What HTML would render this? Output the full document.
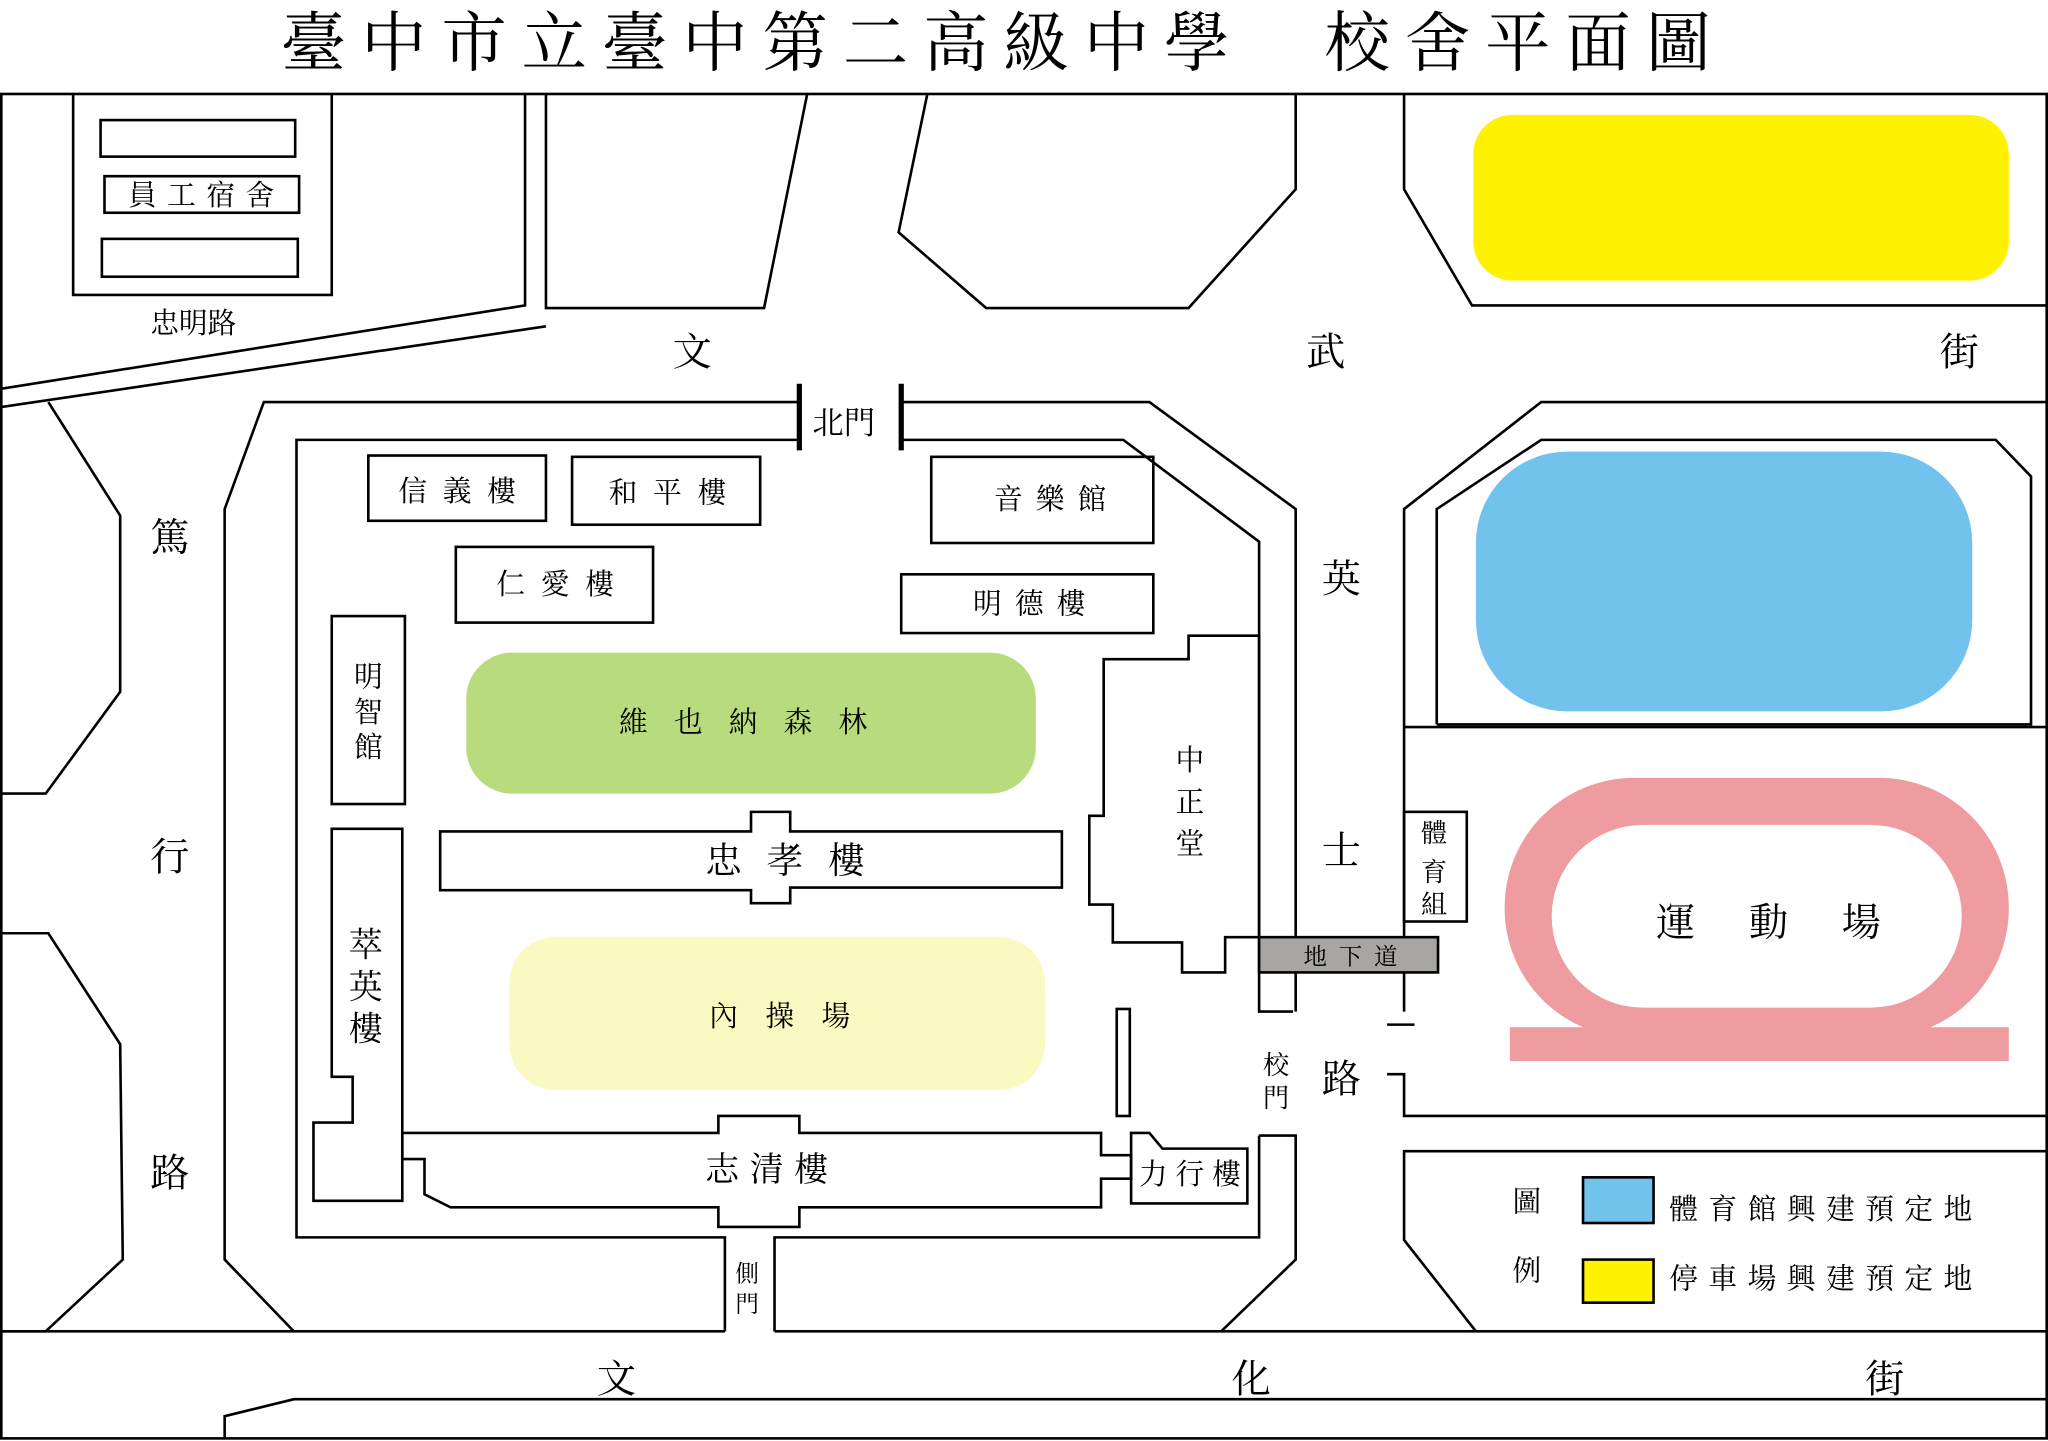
<!DOCTYPE html>
<html><head><meta charset="utf-8"><style>
html,body{margin:0;padding:0;background:#fff;}
svg{display:block;}
text{font-family:"Liberation Serif","Noto Serif CJK SC","Noto Sans CJK TC",serif;fill:#000;}
</style></head><body>
<svg width="2048" height="1441" viewBox="0 0 1568 1104" preserveAspectRatio="none" xmlns="http://www.w3.org/2000/svg">
<rect width="1568" height="1104" fill="#fff"/>
<text x="215" y="50" font-size="50" textLength="1095" lengthAdjust="spacing">臺中市立臺中第二高級中學　校舍平面圖</text>
<g fill="none" stroke="#000" stroke-width="2">
<rect x="1" y="72" width="1566" height="1030"/>
<!-- top left dorm -->
<polyline points="56,72 56,226 254,226 254,72"/>
<rect x="77" y="92" width="149" height="28"/>
<rect x="80" y="135" width="149" height="28"/>
<rect x="78" y="183" width="150" height="29"/>
<polyline points="0,298 402,234 402,72"/>
<polyline points="0,312 418,250"/>
<polyline points="418,72 418,236 585,236 618,72"/>
<polyline points="710,72 688,178 755,236 910,236 992,145 992,72"/>
<polyline points="1075,72 1075,145 1127,234 1568,234"/>
<!-- left -->
<polyline points="37,308 92,395 92,530 35,608 0,608"/>
<polyline points="0,715 37,715 92,800 94,965 35,1020 0,1020"/>
<polyline points="0,1020 555,1020"/>
<polyline points="593,1020 1568,1020"/>
<polyline points="172,1102 172,1085 225,1072 1568,1072"/>
<!-- campus outer -->
<polyline points="612,308 202,308 172,390 172,965 225,1020"/>
<polyline points="690,308 880,308 992,390 992,775"/>
<polyline points="964,870 992,870 992,965 935,1020"/>
<polyline points="612,337 227,337 227,948 555,948 555,1020"/>
<polyline points="690,337 860,337 964,415 964,775 990,775"/>
<polyline points="593,1020 593,948 964,948 964,870"/>
<!-- right side -->
<polyline points="1075,775 1075,390 1180,308 1568,308"/>
<polyline points="1100,555 1100,390 1180,337 1528,337 1555,365 1555,555 1100,555"/>
<polyline points="1075,557 1568,557"/>
<rect x="1075" y="622" width="48" height="84"/>
<line x1="1062" y1="785" x2="1083" y2="785"/>
<polyline points="1062,823 1075,823 1075,855 1568,855"/>
<polyline points="1568,882 1075,882 1075,950 1130,1020"/>
<!-- buildings -->
<rect x="282" y="349" width="136" height="50"/>
<rect x="438" y="350" width="144" height="52"/>
<rect x="349" y="419" width="151" height="58"/>
<rect x="713" y="350" width="170" height="66"/>
<rect x="690" y="440" width="193" height="45"/>
<rect x="254" y="472" width="56" height="144"/>
<polygon points="337,637 575,637 575,622 605,622 605,637 813,637 813,680 605,680 605,692 575,692 575,682 337,682"/>
<rect x="855" y="773" width="10" height="82"/>
<polygon points="254,635 308,635 308,920 240,920 240,860 270,860 270,825 254,825"/>
<polygon points="308,868 550,868 550,855 612,855 612,868 843,868 843,885 866,885 866,903 843,903 843,925 612,925 612,940 550,940 550,925 345,925 325,915 325,888 308,888"/>
<polygon points="866,868 880,868 890,880 955,880 955,922 866,922"/>
<polygon points="845,505 910,505 910,487 964,487 964,718 938,718 938,745 905,745 905,722 852,722 852,693 834,693 834,625 845,625"/>
</g>
<line x1="612" y1="294" x2="612" y2="345" stroke="#000" stroke-width="4"/>
<line x1="690" y1="294" x2="690" y2="345" stroke="#000" stroke-width="4"/>
<rect x="1128" y="88" width="410" height="127" rx="30" fill="#fff200"/>
<rect x="1130" y="346" width="380" height="199" rx="70" fill="#72c2ee"/>
<rect x="357" y="500" width="436" height="108" rx="35" fill="#b8db7d"/>
<rect x="390" y="718" width="410" height="117" rx="35" fill="#fbf9c2"/>
<rect x="964" y="718" width="137" height="27" fill="#a8a5a2" stroke="#000" stroke-width="2"/>
<rect x="1152" y="596" width="386" height="199" rx="99" fill="#ee9ca0"/>
<rect x="1156" y="787" width="382" height="26" fill="#ee9ca0"/>
<rect x="1188" y="632" width="314" height="140" rx="70" fill="#fff"/>
<rect x="1212" y="902" width="54" height="35" fill="#72c2ee" stroke="#000" stroke-width="2"/>
<rect x="1212" y="965" width="54" height="33" fill="#fff200" stroke="#000" stroke-width="2"/>
<g font-size="30" text-anchor="middle">
<text x="530" y="280">文</text><text x="1015" y="280">武</text><text x="1500" y="280">街</text>
<text x="130" y="422">篤</text><text x="130" y="667">行</text><text x="130" y="909">路</text>
<text x="1027" y="454">英</text><text x="1027" y="662">士</text><text x="1027" y="837">路</text>
<text x="472" y="1067">文</text><text x="958" y="1067">化</text><text x="1443" y="1067">街</text>
</g>
<g font-size="22">
<text x="98" y="157" textLength="112" lengthAdjust="spacing">員工宿舍</text>
<text x="115" y="255">忠明路</text>
<text x="622" y="332" font-size="24">北門</text>
<text x="305" y="384" textLength="90" lengthAdjust="spacing">信義樓</text>
<text x="466" y="385" textLength="90" lengthAdjust="spacing">和平樓</text>
<text x="380" y="455" textLength="90" lengthAdjust="spacing">仁愛樓</text>
<text x="761" y="390" textLength="86" lengthAdjust="spacing">音樂館</text>
<text x="745" y="470" textLength="86" lengthAdjust="spacing">明德樓</text>
<text x="474" y="561" textLength="190" lengthAdjust="spacing">維也納森林</text>
<text x="540" y="669" font-size="28" textLength="122" lengthAdjust="spacing">忠孝樓</text>
<text x="543" y="786" textLength="108" lengthAdjust="spacing">內操場</text>
<text x="540" y="905" font-size="26" textLength="94" lengthAdjust="spacing">志清樓</text>
<text x="872" y="907" textLength="78" lengthAdjust="spacing">力行樓</text>
<text x="1268" y="717" font-size="30" textLength="172" lengthAdjust="spacing">運動場</text>
<text x="998" y="739" font-size="18" textLength="72" lengthAdjust="spacing">地下道</text>
<text x="1278" y="934" textLength="232" lengthAdjust="spacing">體育館興建預定地</text>
<text x="1278" y="987" textLength="232" lengthAdjust="spacing">停車場興建預定地</text>
<text x="1158" y="928">圖</text><text x="1158" y="981">例</text>
</g>
<g font-size="22" text-anchor="middle">
<text x="282" y="526">明</text><text x="282" y="553">智</text><text x="282" y="580">館</text>
<text x="280" y="733" font-size="26">萃</text><text x="280" y="765" font-size="26">英</text><text x="280" y="797" font-size="26">樓</text>
<text x="911" y="590">中</text><text x="911" y="622">正</text><text x="911" y="654">堂</text>
<text x="1098" y="645" font-size="20">體</text><text x="1098" y="675" font-size="20">育</text><text x="1098" y="700" font-size="20">組</text>
<text x="977" y="823" font-size="20">校</text><text x="977" y="848" font-size="20">門</text>
<text x="572" y="982" font-size="18">側</text><text x="572" y="1005" font-size="18">門</text>
</g>
</svg>
</body></html>
